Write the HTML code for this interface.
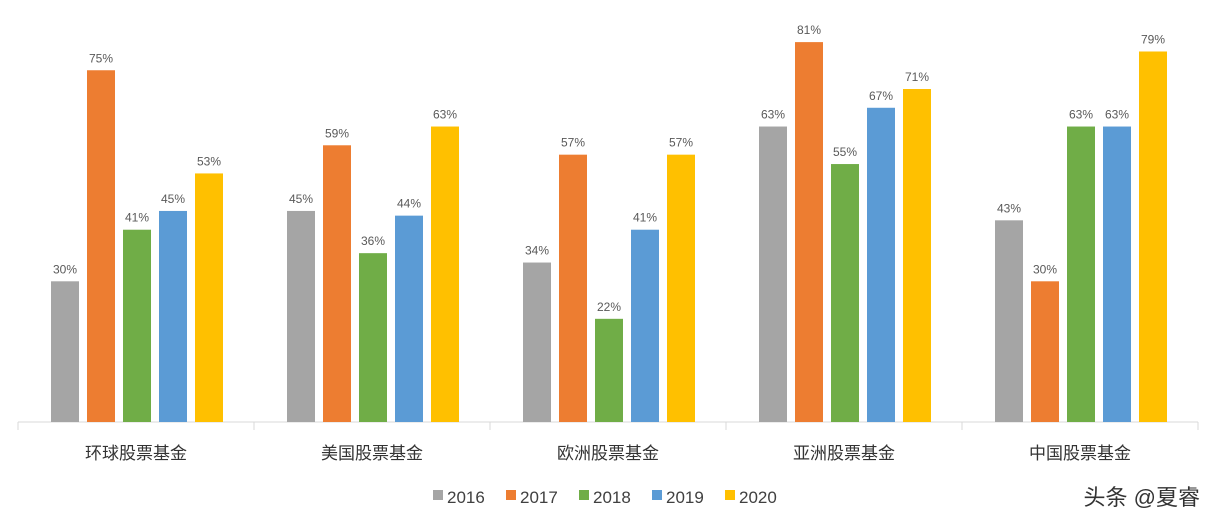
<!DOCTYPE html>
<html><head><meta charset="utf-8"><style>
body{margin:0;background:#fff;}
svg{display:block;font-family:"Liberation Sans","Noto Sans CJK SC",sans-serif;}
</style></head><body>
<svg id="chart" width="1218" height="528"></svg>
<script>
const categories=["环球股票基金","美国股票基金","欧洲股票基金","亚洲股票基金","中国股票基金"];
const years=["2016","2017","2018","2019","2020"];
const s2016=[30,45,34,63,43];
const s2017=[75,59,57,81,30];
const s2018=[41,36,22,55,63];
const s2019=[45,44,41,67,63];
const s2020=[53,63,57,71,79];
const series=[s2016,s2017,s2018,s2019,s2020];
const colors=["#a5a5a5","#ed7d31","#70ad47","#5b9bd5","#ffc000"];
const NS="http://www.w3.org/2000/svg";
const svg=document.getElementById('chart');
const x0=18,x1=1198,base=422,pxPer=4.69;
const gw=(x1-x0)/categories.length;
const y=v=>base-v*pxPer;
const bx=(g,s)=>x0+g*gw+33+s*36;
function mk(t,a){const e=document.createElementNS(NS,t);for(const k in a)e.setAttribute(k,a[k]);svg.appendChild(e);return e;}
let ax=mk('line',{x1:x0,x2:x1,y1:base,y2:base,stroke:'#d9d9d9','stroke-width':1});


for(let g=0;g<=categories.length;g++){
 const t=mk('line',{x1:x0+g*gw,x2:x0+g*gw,y1:base,y2:base+8,stroke:'#d9d9d9'});
 
 
}
categories.forEach((c,g)=>{
 const t=mk('text',{x:x0+g*gw+gw/2,y:459,'text-anchor':'middle','font-size':17,fill:'#333'});
 t.textContent=c;
 
 
 series.forEach((ser,s)=>{
  const v=ser[g];
  const r=mk('rect',{x:bx(g,s),y:y(v),width:28,height:base-y(v),fill:colors[s]});
  
  
  const l=mk('text',{x:bx(g,s)+14,y:y(v)-8,'text-anchor':'middle','font-size':12,fill:'#595959'});
  l.textContent=v+'%';
  
  
 });
});
years.forEach((yr,s)=>{
 const lx=433+s*73;
 const r=mk('rect',{x:lx,y:490,width:10,height:10,fill:colors[s]});
 
 
 const t=mk('text',{x:lx+14,y:503,'font-size':17,fill:'#404040'});
 t.textContent=yr;
 
 
});
const w=mk('text',{x:1200,y:505,'text-anchor':'end','font-size':22,fill:'#333'});
w.textContent='头条 @夏睿';


</script>
</body></html>
